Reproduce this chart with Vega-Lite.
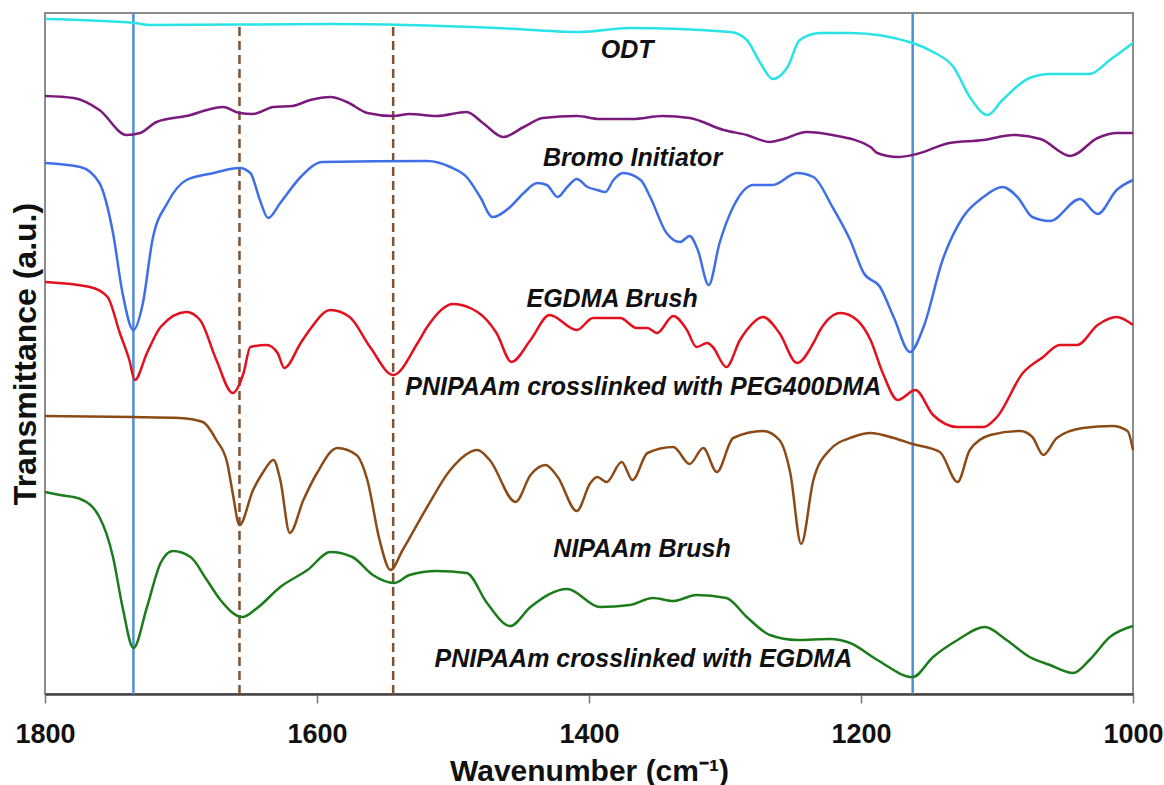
{
  "$schema": "https://vega.github.io/schema/vega-lite/v6.json",
  "width": 1088,
  "height": 681,
  "autosize": {"type": "none"},
  "padding": {"left": 45, "top": 13, "right": 31, "bottom": 91},
  "background": "white",
  "config": {
    "view": {"stroke": "#8c8c8c", "strokeWidth": 2},
    "font": "Liberation Sans"
  },
  "datasets": {
    "spectra": [
      {"s":"ODT","w":1800,"t":675},{"s":"ODT","w":1734,"t":671},{"s":"ODT","w":1723,"t":669},{"s":"ODT","w":1590,"t":670},{"s":"ODT","w":1468,"t":666},{"s":"ODT","w":1407,"t":662},{"s":"ODT","w":1370,"t":666},{"s":"ODT","w":1296,"t":662},{"s":"ODT","w":1284,"t":654},{"s":"ODT","w":1274,"t":631},{"s":"ODT","w":1265,"t":615},{"s":"ODT","w":1254,"t":627},{"s":"ODT","w":1245,"t":654},{"s":"ODT","w":1230,"t":661},{"s":"ODT","w":1208,"t":661},{"s":"ODT","w":1162,"t":651},{"s":"ODT","w":1147,"t":642},{"s":"ODT","w":1132,"t":627},{"s":"ODT","w":1120,"t":597},{"s":"ODT","w":1107,"t":579},{"s":"ODT","w":1096,"t":594},{"s":"ODT","w":1076,"t":616},{"s":"ODT","w":1061,"t":620},{"s":"ODT","w":1032,"t":620},{"s":"ODT","w":1017,"t":634},{"s":"ODT","w":1000,"t":651},

      {"s":"Bromo","w":1800,"t":598},{"s":"Bromo","w":1779,"t":596},{"s":"Bromo","w":1760,"t":584},{"s":"Bromo","w":1740,"t":559},{"s":"Bromo","w":1730,"t":561},{"s":"Bromo","w":1718,"t":572},{"s":"Bromo","w":1693,"t":579},{"s":"Bromo","w":1681,"t":584},{"s":"Bromo","w":1669,"t":587},{"s":"Bromo","w":1657,"t":581},{"s":"Bromo","w":1647,"t":580},{"s":"Bromo","w":1632,"t":587},{"s":"Bromo","w":1618,"t":588},{"s":"Bromo","w":1605,"t":594},{"s":"Bromo","w":1590,"t":597},{"s":"Bromo","w":1578,"t":592},{"s":"Bromo","w":1563,"t":581},{"s":"Bromo","w":1544,"t":578},{"s":"Bromo","w":1532,"t":580},{"s":"Bromo","w":1512,"t":578},{"s":"Bromo","w":1490,"t":582},{"s":"Bromo","w":1478,"t":571},{"s":"Bromo","w":1463,"t":557},{"s":"Bromo","w":1448,"t":567},{"s":"Bromo","w":1434,"t":576},{"s":"Bromo","w":1409,"t":578},{"s":"Bromo","w":1392,"t":575},{"s":"Bromo","w":1368,"t":575},{"s":"Bromo","w":1346,"t":578},{"s":"Bromo","w":1326,"t":576},{"s":"Bromo","w":1301,"t":564},{"s":"Bromo","w":1284,"t":559},{"s":"Bromo","w":1267,"t":552},{"s":"Bromo","w":1257,"t":555},{"s":"Bromo","w":1240,"t":562},{"s":"Bromo","w":1221,"t":559},{"s":"Bromo","w":1193,"t":547},{"s":"Bromo","w":1188,"t":541},{"s":"Bromo","w":1173,"t":537},{"s":"Bromo","w":1159,"t":540},{"s":"Bromo","w":1135,"t":551},{"s":"Bromo","w":1110,"t":554},{"s":"Bromo","w":1088,"t":559},{"s":"Bromo","w":1068,"t":555},{"s":"Bromo","w":1046,"t":538},{"s":"Bromo","w":1026,"t":556},{"s":"Bromo","w":1012,"t":561},{"s":"Bromo","w":1000,"t":561},

      {"s":"EGDMA","w":1800,"t":531},{"s":"EGDMA","w":1774,"t":527},{"s":"EGDMA","w":1760,"t":511},{"s":"EGDMA","w":1750,"t":461},{"s":"EGDMA","w":1743,"t":401},{"s":"EGDMA","w":1735,"t":364},{"s":"EGDMA","w":1728,"t":391},{"s":"EGDMA","w":1721,"t":454},{"s":"EGDMA","w":1710,"t":491},{"s":"EGDMA","w":1696,"t":514},{"s":"EGDMA","w":1676,"t":521},{"s":"EGDMA","w":1657,"t":526},{"s":"EGDMA","w":1649,"t":521},{"s":"EGDMA","w":1642,"t":494},{"s":"EGDMA","w":1636,"t":476},{"s":"EGDMA","w":1627,"t":491},{"s":"EGDMA","w":1612,"t":517},{"s":"EGDMA","w":1596,"t":532},{"s":"EGDMA","w":1519,"t":533},{"s":"EGDMA","w":1502,"t":527},{"s":"EGDMA","w":1490,"t":517},{"s":"EGDMA","w":1480,"t":497},{"s":"EGDMA","w":1471,"t":477},{"s":"EGDMA","w":1458,"t":487},{"s":"EGDMA","w":1448,"t":501},{"s":"EGDMA","w":1438,"t":511},{"s":"EGDMA","w":1431,"t":509},{"s":"EGDMA","w":1423,"t":497},{"s":"EGDMA","w":1416,"t":507},{"s":"EGDMA","w":1409,"t":515},{"s":"EGDMA","w":1401,"t":507},{"s":"EGDMA","w":1394,"t":504},{"s":"EGDMA","w":1388,"t":502},{"s":"EGDMA","w":1382,"t":514},{"s":"EGDMA","w":1375,"t":521},{"s":"EGDMA","w":1362,"t":514},{"s":"EGDMA","w":1355,"t":497},{"s":"EGDMA","w":1343,"t":461},{"s":"EGDMA","w":1333,"t":452},{"s":"EGDMA","w":1326,"t":458},{"s":"EGDMA","w":1320,"t":444},{"s":"EGDMA","w":1312,"t":409},{"s":"EGDMA","w":1304,"t":451},{"s":"EGDMA","w":1294,"t":487},{"s":"EGDMA","w":1279,"t":509},{"s":"EGDMA","w":1265,"t":509},{"s":"EGDMA","w":1247,"t":521},{"s":"EGDMA","w":1235,"t":517},{"s":"EGDMA","w":1221,"t":487},{"s":"EGDMA","w":1208,"t":454},{"s":"EGDMA","w":1198,"t":421},{"s":"EGDMA","w":1186,"t":407},{"s":"EGDMA","w":1176,"t":377},{"s":"EGDMA","w":1164,"t":342},{"s":"EGDMA","w":1154,"t":367},{"s":"EGDMA","w":1140,"t":434},{"s":"EGDMA","w":1125,"t":477},{"s":"EGDMA","w":1110,"t":497},{"s":"EGDMA","w":1096,"t":507},{"s":"EGDMA","w":1085,"t":497},{"s":"EGDMA","w":1074,"t":477},{"s":"EGDMA","w":1061,"t":473},{"s":"EGDMA","w":1039,"t":495},{"s":"EGDMA","w":1026,"t":480},{"s":"EGDMA","w":1012,"t":504},{"s":"EGDMA","w":1000,"t":514},

      {"s":"PEG","w":1800,"t":412},{"s":"PEG","w":1767,"t":407},{"s":"PEG","w":1754,"t":397},{"s":"PEG","w":1745,"t":361},{"s":"PEG","w":1738,"t":334},{"s":"PEG","w":1734,"t":314},{"s":"PEG","w":1725,"t":341},{"s":"PEG","w":1715,"t":367},{"s":"PEG","w":1696,"t":382},{"s":"PEG","w":1686,"t":374},{"s":"PEG","w":1674,"t":334},{"s":"PEG","w":1662,"t":301},{"s":"PEG","w":1654,"t":321},{"s":"PEG","w":1649,"t":347},{"s":"PEG","w":1637,"t":349},{"s":"PEG","w":1629,"t":341},{"s":"PEG","w":1624,"t":326},{"s":"PEG","w":1612,"t":351},{"s":"PEG","w":1607,"t":361},{"s":"PEG","w":1590,"t":384},{"s":"PEG","w":1576,"t":377},{"s":"PEG","w":1561,"t":347},{"s":"PEG","w":1544,"t":319},{"s":"PEG","w":1526,"t":351},{"s":"PEG","w":1519,"t":367},{"s":"PEG","w":1500,"t":390},{"s":"PEG","w":1482,"t":382},{"s":"PEG","w":1468,"t":361},{"s":"PEG","w":1457,"t":332},{"s":"PEG","w":1443,"t":354},{"s":"PEG","w":1429,"t":379},{"s":"PEG","w":1409,"t":364},{"s":"PEG","w":1397,"t":376},{"s":"PEG","w":1377,"t":376},{"s":"PEG","w":1365,"t":366},{"s":"PEG","w":1357,"t":366},{"s":"PEG","w":1350,"t":361},{"s":"PEG","w":1338,"t":378},{"s":"PEG","w":1328,"t":364},{"s":"PEG","w":1321,"t":347},{"s":"PEG","w":1313,"t":351},{"s":"PEG","w":1309,"t":347},{"s":"PEG","w":1299,"t":327},{"s":"PEG","w":1289,"t":354},{"s":"PEG","w":1284,"t":364},{"s":"PEG","w":1272,"t":377},{"s":"PEG","w":1260,"t":361},{"s":"PEG","w":1247,"t":331},{"s":"PEG","w":1235,"t":351},{"s":"PEG","w":1230,"t":364},{"s":"PEG","w":1215,"t":381},{"s":"PEG","w":1203,"t":374},{"s":"PEG","w":1193,"t":354},{"s":"PEG","w":1184,"t":321},{"s":"PEG","w":1173,"t":294},{"s":"PEG","w":1160,"t":304},{"s":"PEG","w":1147,"t":279},{"s":"PEG","w":1129,"t":267},{"s":"PEG","w":1110,"t":267},{"s":"PEG","w":1100,"t":277},{"s":"PEG","w":1081,"t":321},{"s":"PEG","w":1066,"t":337},{"s":"PEG","w":1054,"t":349},{"s":"PEG","w":1041,"t":349},{"s":"PEG","w":1026,"t":369},{"s":"PEG","w":1012,"t":377},{"s":"PEG","w":1000,"t":369},

      {"s":"NIPAAm","w":1800,"t":278},{"s":"NIPAAm","w":1735,"t":277},{"s":"NIPAAm","w":1701,"t":276},{"s":"NIPAAm","w":1684,"t":272},{"s":"NIPAAm","w":1674,"t":254},{"s":"NIPAAm","w":1666,"t":231},{"s":"NIPAAm","w":1662,"t":201},{"s":"NIPAAm","w":1657,"t":169},{"s":"NIPAAm","w":1647,"t":204},{"s":"NIPAAm","w":1640,"t":221},{"s":"NIPAAm","w":1632,"t":234},{"s":"NIPAAm","w":1627,"t":214},{"s":"NIPAAm","w":1620,"t":161},{"s":"NIPAAm","w":1610,"t":194},{"s":"NIPAAm","w":1600,"t":221},{"s":"NIPAAm","w":1585,"t":246},{"s":"NIPAAm","w":1571,"t":239},{"s":"NIPAAm","w":1563,"t":214},{"s":"NIPAAm","w":1554,"t":154},{"s":"NIPAAm","w":1546,"t":124},{"s":"NIPAAm","w":1537,"t":144},{"s":"NIPAAm","w":1519,"t":187},{"s":"NIPAAm","w":1502,"t":224},{"s":"NIPAAm","w":1482,"t":244},{"s":"NIPAAm","w":1473,"t":234},{"s":"NIPAAm","w":1454,"t":192},{"s":"NIPAAm","w":1443,"t":219},{"s":"NIPAAm","w":1432,"t":229},{"s":"NIPAAm","w":1423,"t":217},{"s":"NIPAAm","w":1409,"t":183},{"s":"NIPAAm","w":1399,"t":211},{"s":"NIPAAm","w":1394,"t":217},{"s":"NIPAAm","w":1387,"t":212},{"s":"NIPAAm","w":1376,"t":232},{"s":"NIPAAm","w":1368,"t":214},{"s":"NIPAAm","w":1357,"t":241},{"s":"NIPAAm","w":1338,"t":247},{"s":"NIPAAm","w":1326,"t":230},{"s":"NIPAAm","w":1316,"t":246},{"s":"NIPAAm","w":1306,"t":222},{"s":"NIPAAm","w":1294,"t":256},{"s":"NIPAAm","w":1272,"t":263},{"s":"NIPAAm","w":1260,"t":254},{"s":"NIPAAm","w":1252,"t":221},{"s":"NIPAAm","w":1244,"t":150},{"s":"NIPAAm","w":1235,"t":214},{"s":"NIPAAm","w":1223,"t":244},{"s":"NIPAAm","w":1206,"t":257},{"s":"NIPAAm","w":1193,"t":261},{"s":"NIPAAm","w":1176,"t":256},{"s":"NIPAAm","w":1162,"t":250},{"s":"NIPAAm","w":1142,"t":242},{"s":"NIPAAm","w":1129,"t":212},{"s":"NIPAAm","w":1120,"t":244},{"s":"NIPAAm","w":1105,"t":259},{"s":"NIPAAm","w":1083,"t":263},{"s":"NIPAAm","w":1074,"t":257},{"s":"NIPAAm","w":1066,"t":239},{"s":"NIPAAm","w":1056,"t":256},{"s":"NIPAAm","w":1037,"t":266},{"s":"NIPAAm","w":1015,"t":268},{"s":"NIPAAm","w":1004,"t":263},{"s":"NIPAAm","w":1000,"t":244},

      {"s":"XEGDMA","w":1800,"t":202},{"s":"XEGDMA","w":1789,"t":199},{"s":"XEGDMA","w":1774,"t":195},{"s":"XEGDMA","w":1760,"t":177},{"s":"XEGDMA","w":1750,"t":137},{"s":"XEGDMA","w":1743,"t":87},{"s":"XEGDMA","w":1735,"t":46},{"s":"XEGDMA","w":1725,"t":87},{"s":"XEGDMA","w":1715,"t":131},{"s":"XEGDMA","w":1706,"t":143},{"s":"XEGDMA","w":1693,"t":137},{"s":"XEGDMA","w":1681,"t":114},{"s":"XEGDMA","w":1671,"t":94},{"s":"XEGDMA","w":1655,"t":77},{"s":"XEGDMA","w":1644,"t":86},{"s":"XEGDMA","w":1627,"t":107},{"s":"XEGDMA","w":1607,"t":124},{"s":"XEGDMA","w":1590,"t":142},{"s":"XEGDMA","w":1574,"t":137},{"s":"XEGDMA","w":1559,"t":119},{"s":"XEGDMA","w":1543,"t":111},{"s":"XEGDMA","w":1532,"t":119},{"s":"XEGDMA","w":1512,"t":123},{"s":"XEGDMA","w":1490,"t":121},{"s":"XEGDMA","w":1475,"t":91},{"s":"XEGDMA","w":1458,"t":68},{"s":"XEGDMA","w":1443,"t":87},{"s":"XEGDMA","w":1416,"t":105},{"s":"XEGDMA","w":1392,"t":87},{"s":"XEGDMA","w":1370,"t":89},{"s":"XEGDMA","w":1353,"t":96},{"s":"XEGDMA","w":1338,"t":93},{"s":"XEGDMA","w":1321,"t":99},{"s":"XEGDMA","w":1299,"t":96},{"s":"XEGDMA","w":1284,"t":77},{"s":"XEGDMA","w":1267,"t":59},{"s":"XEGDMA","w":1247,"t":54},{"s":"XEGDMA","w":1223,"t":55},{"s":"XEGDMA","w":1208,"t":51},{"s":"XEGDMA","w":1188,"t":34},{"s":"XEGDMA","w":1162,"t":17},{"s":"XEGDMA","w":1147,"t":37},{"s":"XEGDMA","w":1129,"t":54},{"s":"XEGDMA","w":1109,"t":67},{"s":"XEGDMA","w":1093,"t":54},{"s":"XEGDMA","w":1076,"t":37},{"s":"XEGDMA","w":1061,"t":29},{"s":"XEGDMA","w":1044,"t":21},{"s":"XEGDMA","w":1032,"t":34},{"s":"XEGDMA","w":1017,"t":57},{"s":"XEGDMA","w":1000,"t":68}
    ],
    "labels": [
      {"label":"ODT","w":1372,"t":644},
      {"label":"Bromo Initiator","w":1368,"t":536},
      {"label":"EGDMA Brush","w":1383,"t":395},
      {"label":"PNIPAAm crosslinked with PEG400DMA","w":1360,"t":307},
      {"label":"NIPAAm Brush","w":1361,"t":145},
      {"label":"PNIPAAm crosslinked with EGDMA","w":1360,"t":35}
    ],
    "solid": [
      {"w":1735,"t0":0,"t1":681},
      {"w":1162,"t0":0,"t1":681}
    ],
    "dashed": [
      {"w":1657,"t0":0,"t1":671},
      {"w":1544,"t0":0,"t1":671}
    ]
  },
  "layer": [
    {
      "data": {"name": "solid"},
      "mark": {"type": "rule", "color": "#4f8fd6", "strokeWidth": 2.5},
      "encoding": {
        "x": {"field": "w", "type": "quantitative"},
        "y": {"field": "t0", "type": "quantitative"},
        "y2": {"field": "t1"}
      }
    },
    {
      "data": {"name": "dashed"},
      "mark": {"type": "rule", "color": "#7f5230", "strokeWidth": 2.5, "strokeDash": [9, 5]},
      "encoding": {
        "x": {"field": "w", "type": "quantitative"},
        "y": {"field": "t0", "type": "quantitative"},
        "y2": {"field": "t1"}
      }
    },
    {
      "data": {"name": "spectra"},
      "mark": {"type": "line", "interpolate": "monotone", "strokeWidth": 2.5},
      "encoding": {
        "x": {
          "field": "w", "type": "quantitative",
          "scale": {"domain": [1000, 1800], "reverse": true, "nice": false, "zero": false},
          "axis": {
            "title": "Wavenumber (cm⁻¹)",
            "values": [1800, 1600, 1400, 1200, 1000],
            "format": "d",
            "grid": false,
            "labelFlush": false,
            "labelOverlap": false,
            "domainColor": "#444444",
            "domainWidth": 2.5,
            "tickColor": "#777777",
            "tickWidth": 1.5,
            "tickSize": 9,
            "labelFont": "Liberation Sans",
            "labelFontSize": 27,
            "labelFontWeight": "bold",
            "labelColor": "#111111",
            "labelPadding": 18,
            "titleFont": "Liberation Sans",
            "titleFontSize": 30,
            "titleFontWeight": "bold",
            "titleColor": "#111111",
            "titleBaseline": "alphabetic",
            "titleY": 86
          }
        },
        "y": {
          "field": "t", "type": "quantitative",
          "scale": {"domain": [0, 681], "nice": false, "zero": false},
          "axis": {
            "title": "Transmittance (a.u.)",
            "labels": false,
            "ticks": false,
            "grid": false,
            "domain": false,
            "titleFont": "Liberation Sans",
            "titleFontSize": 32,
            "titleFontWeight": "bold",
            "titleColor": "#111111",
            "titlePadding": 3
          }
        },
        "color": {
          "field": "s", "type": "nominal", "legend": null,
          "scale": {
            "domain": ["ODT", "Bromo", "EGDMA", "PEG", "NIPAAm", "XEGDMA"],
            "range": ["#29e3e6", "#7a1a7c", "#3f6fe6", "#e3101e", "#8b4a16", "#1c7c1c"]
          }
        }
      }
    },
    {
      "data": {"name": "labels"},
      "mark": {"type": "text", "font": "Liberation Sans", "fontSize": 25, "fontWeight": "bold", "fontStyle": "italic", "color": "#111111", "align": "center", "baseline": "middle"},
      "encoding": {
        "x": {"field": "w", "type": "quantitative"},
        "y": {"field": "t", "type": "quantitative"},
        "text": {"field": "label"}
      }
    }
  ]
}
